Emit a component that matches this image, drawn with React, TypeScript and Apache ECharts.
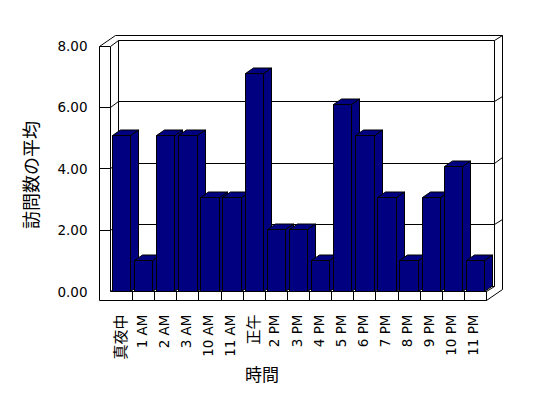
import React, { useEffect, useRef } from "react";
import * as echarts from "echarts";

const categories = ["真夜中", "1 AM", "2 AM", "3 AM", "10 AM", "11 AM", "正午", "2 PM", "3 PM", "4 PM", "5 PM", "6 PM", "7 PM", "8 PM", "9 PM", "10 PM", "11 PM"];
const visits = [5, 1, 5, 5, 3, 3, 7, 2, 2, 1, 6, 5, 3, 1, 3, 4, 1];
const yTicks = [0, 2, 4, 6, 8];
const yTitle = "訪問数の平均";
const xTitle = "時間";

const NAVY = "#000080";
const DX = 8;
const DY = 5.5;
const WALL = 11;
const SLAB = 8.5;
const BAR_RATIO = 0.83;
const FONT = "'DejaVu Sans', 'Noto Sans CJK JP', sans-serif";
const CJK = "'Noto Sans CJK JP', sans-serif";

const c = (v: number) => Math.round(v - 0.5) + 0.5;
const line = (x1: number, y1: number, x2: number, y2: number) => ({
  type: "line",
  shape: { x1, y1, x2, y2 },
  style: { stroke: "#000", lineWidth: 1, fill: "none" },
});

const Y_MIN = yTicks[0];
const Y_MAX = yTicks[yTicks.length - 1];

function frameItem(params: any, api: any) {
  const v = api.value(1);
  const L = api.coord([0, v]);
  const R = api.coord([1, v]);
  const yB = c(L[1]);
  const xBL = c(L[0]);
  const xBR = c(R[0]);
  const yF = c(L[1] + DY);
  const xFL = c(L[0] - DX);
  const xOL = c(L[0] - DX - WALL);
  const xOR = c(R[0] + DX);
  const xFR = c(R[0] - DX);
  const ch: any[] = [];
  ch.push(line(xBL, yB, xBR, yB));
  ch.push(line(xFL, yF, xBL, yB));
  if (v !== Y_MIN) {
    ch.push(line(xOL, yF, xFL, yF));
    ch.push(line(xBR, yB, xOR, c(L[1] - DY)));
  }
  if (v === Y_MAX) {
    const B0 = api.coord([0, Y_MIN]);
    const yB0 = c(B0[1]);
    const yF0 = c(B0[1] + DY);
    const yS = c(B0[1] + DY + SLAB);
    ch.push({
      type: "polygon",
      shape: {
        points: [
          [xOL, yS],
          [xOL, yF],
          [xOL + 2 * DX, yF - 2 * DY],
          [xOR, c(L[1] - DY)],
          [xOR, yS - 2 * DY],
          [xFR, yS],
        ],
      },
      style: { stroke: "#000", lineWidth: 1, fill: "none" },
    });
    ch.push(line(xFL, yF, xFL, yF0));
    ch.push(line(xBL, yB, xBL, yB0));
    ch.push(line(xBR, yB, xBR, yB0));
    ch.push(line(xFL, yF0, xFR, yF0));
    ch.push(line(xFR, yF0, xBR, yB0));
    ch.push(line(xFR, yF0, xFR, yS));
  }
  return { type: "group", children: ch };
}

function barItem(params: any, api: any) {
  const i = api.value(0);
  const v = api.value(1);
  const p = api.coord([i, v]);
  const b = api.coord([i, 0]);
  const band = api.size([1, 0])[0];
  const w = band * BAR_RATIO;
  const x0 = c(p[0] - w / 2);
  const x1 = c(p[0] + w / 2);
  const y0 = c(p[1]);
  const yb = c(b[1]);
  const style = { fill: NAVY, stroke: "#000", lineWidth: 1 };
  const xd = c(p[0] + band / 2);
  return {
    type: "group",
    children: [
      {
        type: "polygon",
        shape: { points: [[x1, y0], [x1 + DX, y0 - DY], [x1 + DX, yb - DY], [x1, yb]] },
        style,
      },
      {
        type: "polygon",
        shape: { points: [[x0, y0], [x0 + DX, y0 - DY], [x1 + DX, y0 - DY], [x1, y0]] },
        style,
      },
      { type: "rect", shape: { x: x0, y: y0, width: x1 - x0, height: yb - y0 }, style },
      line(xd, yb, xd, yb + SLAB),
    ],
  };
}

export default function App() {
  const ref = useRef<HTMLDivElement>(null);
  useEffect(() => {
    if (!ref.current) return;
    const chart = echarts.init(ref.current, null, { renderer: "svg" });
    chart.setOption({
      animation: false,
      backgroundColor: "#fff",
      textStyle: { fontFamily: FONT },
      grid: [
        { left: 110.5, top: 41.9, width: 376, height: 249.6 },
        { left: 108.5, top: 45.5, width: 376, height: 246 },
        { left: 118.5, top: 40.5, width: 376, height: 245.5 },
      ],
      xAxis: [
        { type: "category", gridIndex: 0, data: categories, show: false },
        {
          type: "category",
          gridIndex: 1,
          data: categories,
          axisLine: { show: false },
          axisTick: { show: false },
          splitLine: { show: false },
          axisLabel: {
            rotate: 90,
            margin: 23,
            fontSize: 13.5,
            color: "#000",
            interval: 0,
            fontFamily: FONT,
            formatter: (s: string) => (/^[0-9]/.test(s) ? s : "{cjk|" + s + "}"),
            rich: { cjk: { fontSize: 15, fontFamily: CJK, color: "#000" } },
          },
        },
        { type: "value", gridIndex: 2, min: 0, max: 1, show: false },
      ],
      yAxis: [
        { type: "value", gridIndex: 0, min: Y_MIN, max: Y_MAX, interval: 2, show: false },
        {
          type: "value",
          gridIndex: 1,
          min: Y_MIN,
          max: Y_MAX,
          interval: 2,
          axisLine: { show: false },
          axisTick: { show: false },
          splitLine: { show: false },
          axisLabel: {
            formatter: (v: number) => v.toFixed(2),
            margin: 21,
            fontSize: 13.5,
            color: "#000",
            fontFamily: FONT,
          },
        },
        { type: "value", gridIndex: 2, min: Y_MIN, max: Y_MAX, interval: 2, show: false },
      ],
      series: [
        {
          type: "custom",
          name: "frame",
          xAxisIndex: 2,
          yAxisIndex: 2,
          data: yTicks.map((v) => [0, v]),
          renderItem: frameItem,
          clip: false,
          silent: true,
          z: 1,
        },
        {
          type: "custom",
          name: "訪問数の平均",
          xAxisIndex: 0,
          yAxisIndex: 0,
          data: visits.map((v, i) => [i, v]),
          renderItem: barItem,
          clip: false,
          z: 2,
        },
      ],
      graphic: [
        {
          type: "text",
          x: 30,
          y: 175,
          rotation: Math.PI / 2,
          style: { text: yTitle, fontSize: 18, fontFamily: CJK, fill: "#000", align: "center", verticalAlign: "middle" },
        },
        {
          type: "text",
          x: 262,
          y: 373,
          style: { text: xTitle, fontSize: 17, fontFamily: CJK, fill: "#000", align: "center", verticalAlign: "middle" },
        },
      ],
    });
    return () => chart.dispose();
  }, []);
  return (
    <div
      ref={ref}
      style={{ position: "fixed", left: 0, top: 0, width: 548, height: 398, background: "#fff" }}
    />
  );
}
